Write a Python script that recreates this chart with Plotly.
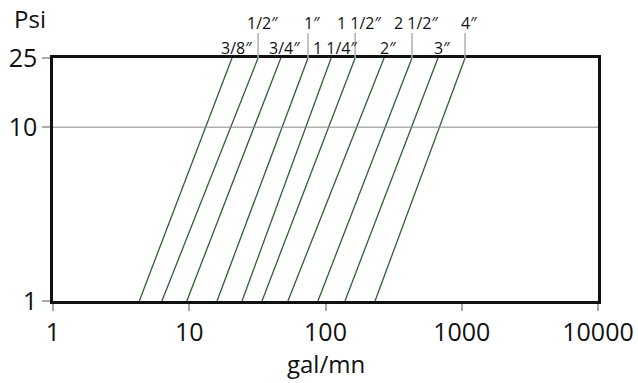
import math
import plotly.graph_objects as go

# Pipe sizes and flow (gal/mn) at 1 psi and 25 psi pressure drop
sizes = ["3/8″", "1/2″", "3/4″", "1″", "1 1/4″", "1 1/2″", "2″", "2 1/2″", "3″", "4″"]
flow_at_1psi = [4.3, 6.3, 9.6, 16.0, 24.4, 34.2, 53.0, 88.0, 139, 231]
flow_at_25psi = [20.6, 32.0, 47.0, 74.4, 110, 165, 269, 431, 669, 1057]
psi_range = [1, 25]

x_ticks = [1, 10, 100, 1000, 10000]
y_ticks = [1, 10, 25]

FONT = "Open Sans"
LINE_COLOR = "#2f5f2f"
PLOT_W, PLOT_H = 545, 243

fig = go.Figure()

for name, q1, q25 in zip(sizes, flow_at_1psi, flow_at_25psi):
    fig.add_trace(go.Scatter(
        x=[q1, q25], y=psi_range, mode="lines", name=name,
        line=dict(color=LINE_COLOR, width=1.3), showlegend=False,
        hoverinfo="name",
    ))

# size labels above the frame, alternating between two rows
annotations = []
shapes = []
for i, (name, q25) in enumerate(zip(sizes, flow_at_25psi)):
    upper = i % 2 == 1
    annotations.append(dict(
        x=math.log10(q25), y=1, xref="x", yref="paper",
        text=name, showarrow=False, xanchor="center", yanchor="middle",
        xshift=4, yshift=35 if upper else 10,
        font=dict(family=FONT, size=16, color="#111"),
    ))
    if upper:
        shapes.append(dict(
            type="line", xref="x", yref="paper",
            x0=q25, x1=q25, y0=1.0, y1=1 + 25 / PLOT_H,
            line=dict(color="#b0b0b0", width=1.5),
        ))

# horizontal reference line at 10 psi
shapes.append(dict(
    type="line", xref="paper", yref="y", x0=0, x1=1, y0=10, y1=10,
    line=dict(color="#888888", width=1),
))

annotations.append(dict(
    x=-41 / PLOT_W, y=1 + 40 / PLOT_H, xref="paper", yref="paper",
    text="Psi", showarrow=False, xanchor="left", yanchor="middle",
    font=dict(family=FONT, size=24, color="#111"),
))
annotations.append(dict(
    x=0.5, y=0, xref="paper", yref="paper", text="gal/mn", showarrow=False,
    xanchor="center", yanchor="middle", yshift=-62,
    font=dict(family=FONT, size=24, color="#111"),
))

fig.update_layout(
    width=638, height=383,
    margin=dict(l=53, r=40, t=58, b=82),
    paper_bgcolor="white", plot_bgcolor="white",
    font=dict(family=FONT, size=25, color="#111"),
    shapes=shapes, annotations=annotations,
    xaxis=dict(
        type="log", range=[0, 4], tickvals=x_ticks,
        ticktext=[str(v) for v in x_ticks], automargin=False,
        showgrid=False, zeroline=False,
        showline=True, mirror=True, linecolor="#111", linewidth=2.5,
        ticks="outside", ticklen=7, tickcolor="#aaaaaa", tickwidth=1.5,
    ),
    yaxis=dict(
        type="log", range=[0, math.log10(25)], tickvals=y_ticks,
        ticktext=[str(v) for v in y_ticks], automargin=False,
        showgrid=False, zeroline=False,
        showline=True, mirror=True, linecolor="#111", linewidth=2.5,
        ticks="outside", ticklen=8, tickcolor="#aaaaaa", tickwidth=1.5,
    ),
)

fig.write_html("out.html")
